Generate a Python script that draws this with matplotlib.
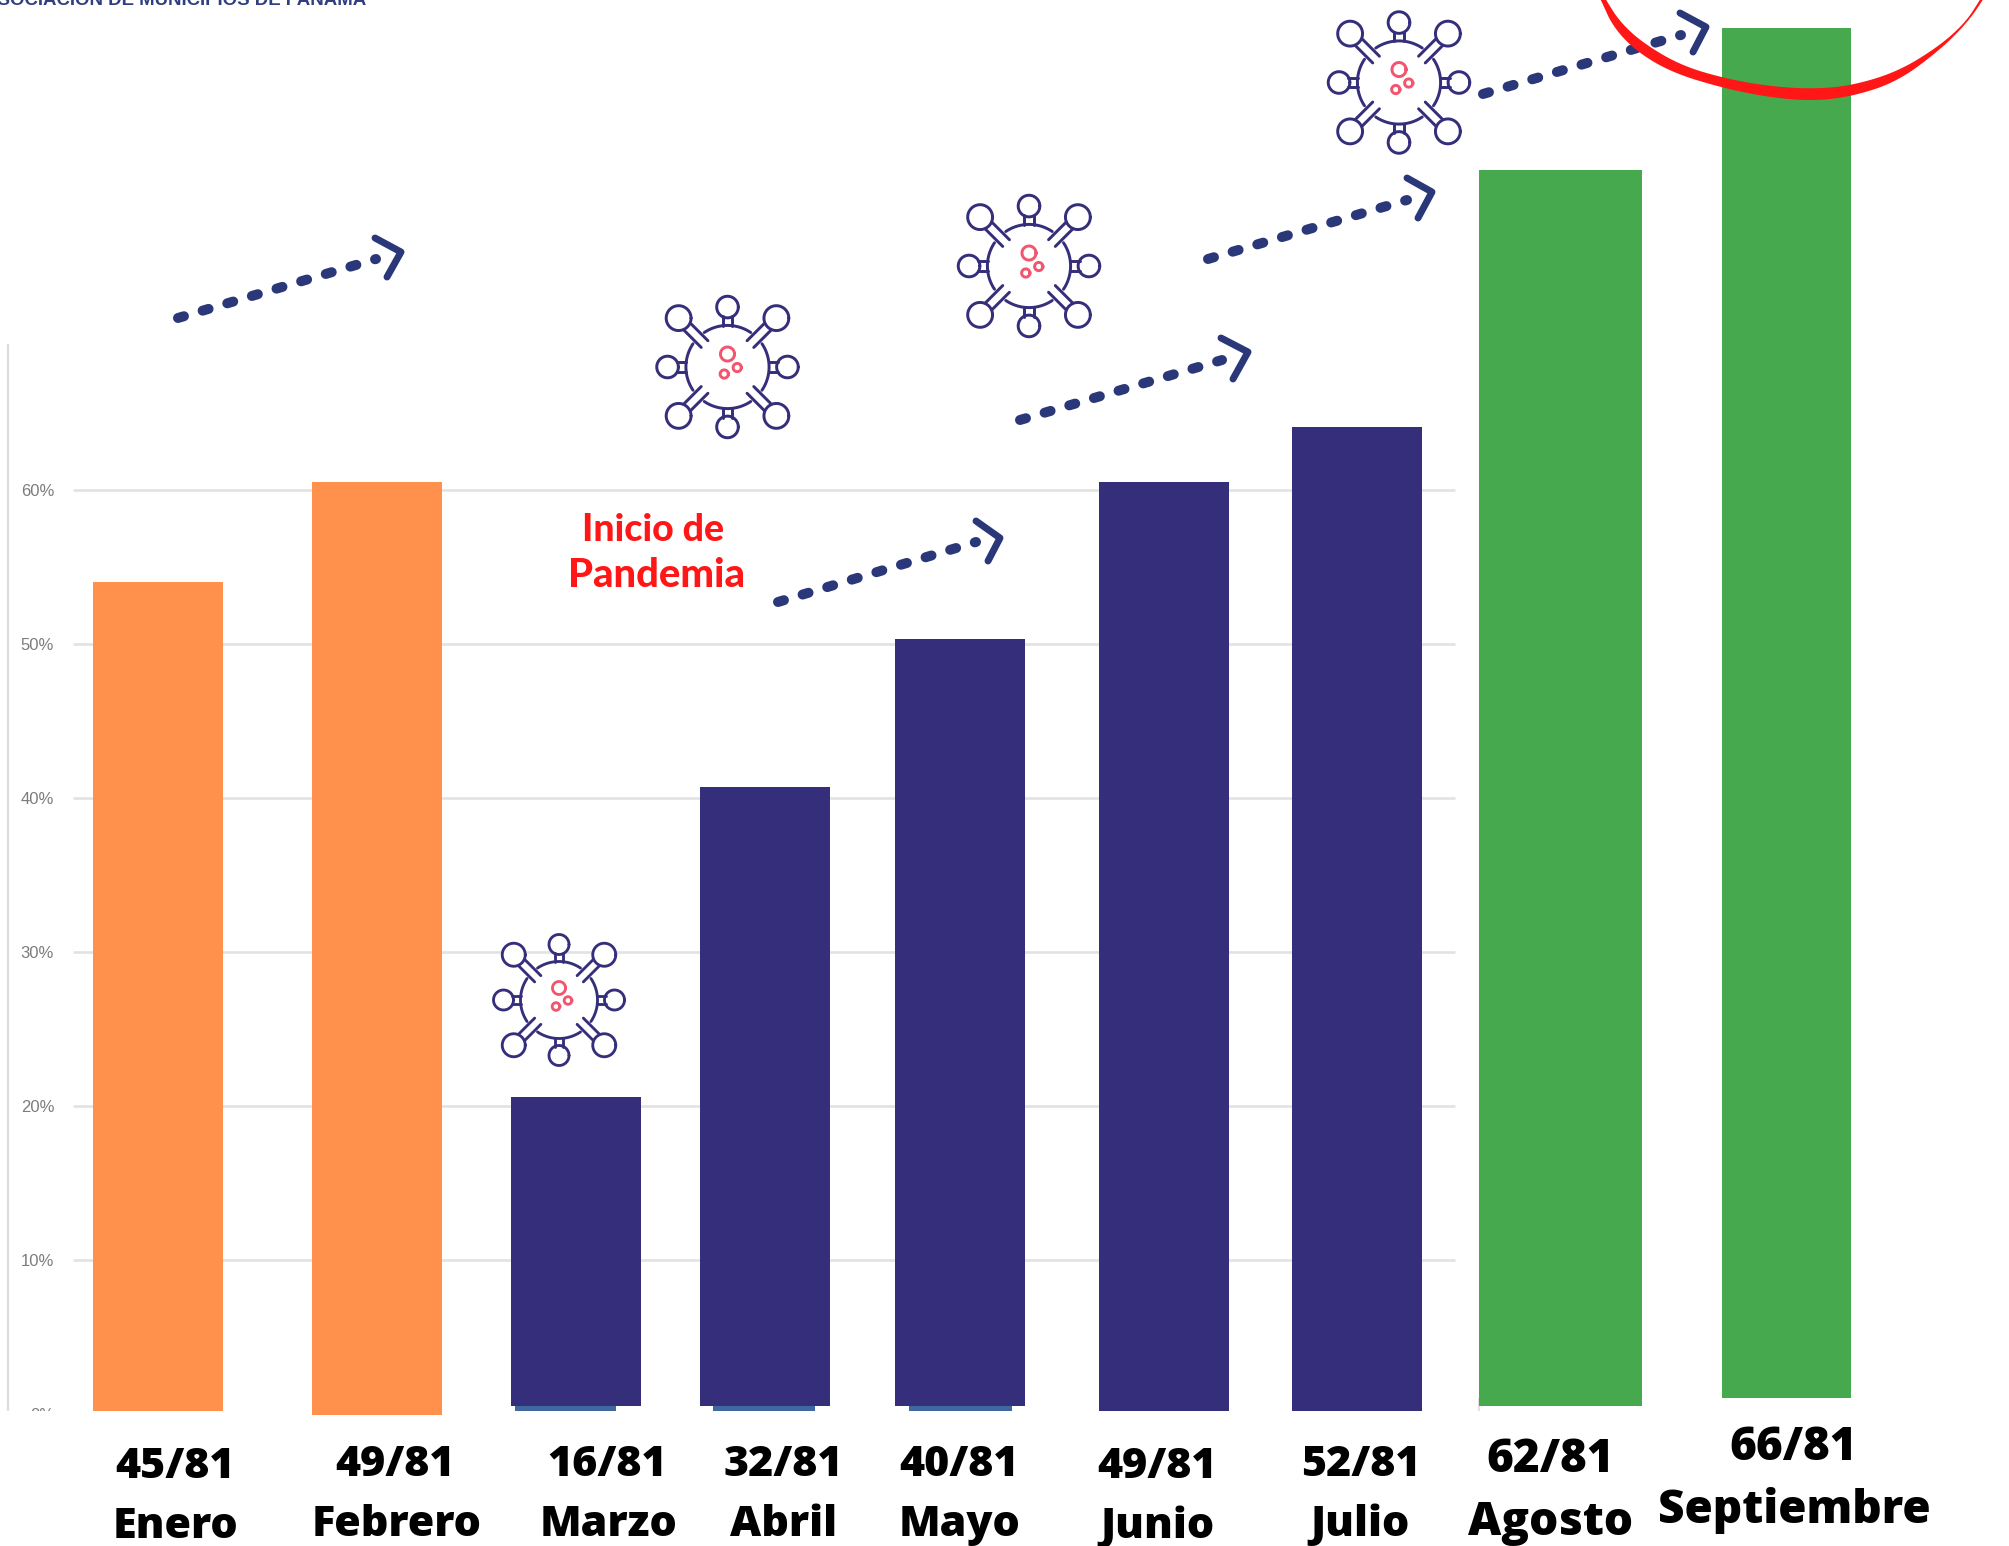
import numpy as np
import matplotlib
matplotlib.use("Agg")
import matplotlib.pyplot as plt
from matplotlib.transforms import Bbox

W, H = 2009, 1546
PX_PER_10 = 153.9
ZERO_Y = 1413.5

# ---------- data ----------
months = ["Enero", "Febrero", "Marzo", "Abril", "Mayo", "Junio", "Julio", "Agosto", "Septiembre"]
ratios = ["45/81", "49/81", "16/81", "32/81", "40/81", "49/81", "52/81", "62/81", "66/81"]
bar_top = [54.0, 60.5, 20.57, 40.7, 50.33, 60.5, 64.07, 80.83, 90.0]
bar_base = [0.13, -0.065, 0.455, 0.455, 0.455, 0.13, 0.13, 0.455, 0.975]
bar_group = ["o", "o", "n", "n", "n", "n", "n", "g", "g"]
under_top = [0.455, 0.455, 0.455]
under_base = [0.13, 0.13, 0.13]
yticks = [0, 10, 20, 30, 40, 50, 60]

# ---------- layout / style ----------
bar_left = [93, 312, 511, 700, 895, 1099, 1292, 1479, 1722]
bar_right = [223, 442, 641, 830, 1025, 1229, 1422, 1642, 1851]
under_left = [515, 713, 909]
under_right = [616, 815, 1012]
colors = {"o": "#ff914d", "n": "#352f7b", "g": "#46a94e"}
NAVY = "#352f7b"
ARROW = "#2a3778"
RED = "#ff1717"
PINK = "#f2566e"

ratio_x = [174.5, 395.5, 607.5, 783.5, 959.5, 1157.5, 1360.5, 1550.5, 1793.5]
ratio_y = [1478.5, 1475.5, 1475.5, 1475.5, 1475.5, 1478.5, 1475.5, 1472.5, 1459.5]
month_x = [176, 397, 609, 784, 960, 1157.5, 1360.5, 1551, 1794]
month_y = [1538.5, 1535.5, 1535.5, 1535.5, 1535.5, 1538.5, 1535.5, 1535.5, 1523.5]
label_size = [31.0] * 7 + [33.0, 33.0]

fig = plt.figure(figsize=(W / 100, H / 100), dpi=100, facecolor="white")
ax = fig.add_axes([0, 0, 1, 1])
ax.set_xlim(0, W)
ax.set_ylim((ZERO_Y - H) / PX_PER_10 * 10, ZERO_Y / PX_PER_10 * 10)
ax.patch.set_visible(False)
for s in ax.spines.values():
    s.set_visible(False)
ax.set_xticks([])
ax.set_yticks(yticks)
ax.set_yticklabels([f"{t}%" for t in yticks], fontfamily="Liberation Sans",
                   fontsize=12, color="#7c7c7c")
ax.tick_params(axis="y", length=0, pad=-39)
clip = Bbox([[0, H - 1411], [W, H]])
for lab in ax.get_yticklabels():
    lab.set_clip_on(True)
    lab.set_clip_box(clip)

# gridlines
ax.hlines([t for t in yticks if t > 0], 73, 1455, color="#e2e2e2", lw=1.9, zorder=1)
# left axis line
ax.vlines(8, 0.16, (ZERO_Y - 344) / PX_PER_10 * 10, color="#dcdcdc", lw=1.6, zorder=1)
ax.vlines(1479, 0.16, 1.0, color="#dcdcdc", lw=1.2, zorder=1)

# bars
for l, r, top, base, g in zip(bar_left, bar_right, bar_top, bar_base, bar_group):
    ax.bar((l + r) / 2, top - base, width=r - l, bottom=base, color=colors[g], zorder=3, lw=0)
for l, r, top, base in zip(under_left, under_right, under_top, under_base):
    ax.bar((l + r) / 2, top - base, width=r - l, bottom=base, color="#41689e", zorder=2, lw=0)

# pixel overlay
ov = fig.add_axes([0, 0, 1, 1])
ov.set_xlim(0, W)
ov.set_ylim(H, 0)
ov.axis("off")
ov.patch.set_visible(False)


def virus(cx, cy, s):
    lw = 2.05 * (1 + (s - 1) * 0.5)
    kw = dict(color=NAVY, lw=lw, zorder=6, solid_capstyle="round")
    t = np.linspace(0, 2 * np.pi, 120)
    ov.fill(cx + 38.5 * s * np.cos(t), cy + 38.5 * s * np.sin(t), color="white", zorder=5, lw=0)
    # body arcs between diagonal stalks
    for a0 in (45, 135, 225, 315):
        th = np.radians(np.linspace(a0 + 11, a0 + 79, 40))
        ov.plot(cx + 38.5 * s * np.cos(th), cy + 38.5 * s * np.sin(th), **kw)
    for k in range(8):
        a = np.radians(k * 45)
        u = np.array([np.cos(a), np.sin(a)])
        n = np.array([-u[1], u[0]])
        diag = k % 2 == 1
        r0, r1, off = (30, 53, 4.4) if diag else (38, 47, 4.4)
        pod_r, pod_d = (11.5, 64) if diag else (10, 55.5)
        for sg in (-1, 1):
            p0 = np.array([cx, cy]) + s * (u * r0 + n * off * sg)
            p1 = np.array([cx, cy]) + s * (u * r1 + n * off * sg)
            ov.plot([p0[0], p1[0]], [p0[1], p1[1]], **kw)
        c = np.array([cx, cy]) + s * u * pod_d
        ov.fill(c[0] + pod_r * s * np.cos(t), c[1] + pod_r * s * np.sin(t), color="white", zorder=5, lw=0)
        ov.plot(c[0] + pod_r * s * np.cos(t), c[1] + pod_r * s * np.sin(t), **kw)
    for dx, dy, r in ((0, -12, 6.5), (9, 0.5, 3.8), (-3, 6.5, 3.8)):
        ov.plot(cx + s * (dx + r * np.cos(t)), cy + s * (dy + r * np.sin(t)), color=PINK, lw=lw, zorder=6)


virus(559, 1000, 1.0)
virus(727.5, 367, 1.08)
virus(1029, 266, 1.08)
virus(1399, 82.5, 1.08)


def arrow(start, end, chev):
    ov.plot([start[0], end[0]], [start[1], end[1]], color=ARROW, lw=7.2, zorder=7,
            dash_capstyle="round", linestyle=(0, (0.62, 1.95)))
    ov.plot(*zip(*chev), color=ARROW, lw=5.0, zorder=7, solid_capstyle="round",
            solid_joinstyle="round")


arrow((178, 318), (376, 259), [(375, 238), (401, 252), (387, 277)])
arrow((778, 602), (976, 542), [(976, 521), (1000, 538), (988, 561)])
arrow((1020, 420), (1222, 360), [(1221, 338), (1248, 352), (1233, 379)])
arrow((1208, 259), (1407, 200), [(1407, 178), (1432, 192), (1418, 218)])
arrow((1483, 94), (1681, 35), [(1680, 13), (1706, 27), (1693, 52)])


def smooth(pts, n=4):
    p = np.array(pts, float)
    for _ in range(n):
        q = 0.75 * p[:-1] + 0.25 * p[1:]
        r = 0.25 * p[:-1] + 0.75 * p[1:]
        m = np.empty((2 * len(q), 2))
        m[0::2] = q
        m[1::2] = r
        p = np.vstack([p[0], m, p[-1]])
    return p


outer = smooth([(1596, -8), (1601, 0), (1613, 27), (1637, 52), (1673, 73), (1723, 88), (1767, 97), (1810, 101),
                (1850, 97), (1897, 82), (1940, 50), (1967, 23), (1983, 0), (1987, -8)])
inner = smooth([(1602, -8), (1606, 0), (1620, 22), (1643, 43), (1680, 65), (1723, 78), (1767, 86), (1810, 89),
                (1850, 86), (1897, 72), (1938, 47), (1965, 23), (1980, 0), (1984, -8)])
poly = np.vstack([outer, inner[::-1]])
ov.fill(poly[:, 0], poly[:, 1], color=RED, lw=0, zorder=8)

# header fragment cut by the top edge
ov.text(366, 5, "ASOCIACIÓN DE MUNICIPIOS DE PANAMÁ", ha="right", va="baseline",
        fontfamily="Liberation Sans", fontsize=13.4, fontweight="bold", color="#2f3f80", zorder=9, clip_on=True)

# red note
ov.text(653, 541, "Inicio de", ha="center", va="baseline", fontfamily="Lato", fontweight=900,
        fontsize=27, color=RED, zorder=9)
ov.text(656.5, 587, "Pandemia", ha="center", va="baseline", fontfamily="Lato", fontweight=900,
        fontsize=28.8, color=RED, zorder=9)

# category labels
for rx, ry, mx, my, rt, mt, fs in zip(ratio_x, ratio_y, month_x, month_y, ratios, months, label_size):
    ov.text(rx, ry, rt, ha="center", va="baseline", fontfamily="Open Sans", fontweight=800,
            fontsize=fs, color="black", zorder=9)
    ov.text(mx, my, mt, ha="center", va="baseline", fontfamily="Open Sans", fontweight=800,
            fontsize=fs, color="black", zorder=9)

fig.savefig("out.png", dpi=100, facecolor="white")
